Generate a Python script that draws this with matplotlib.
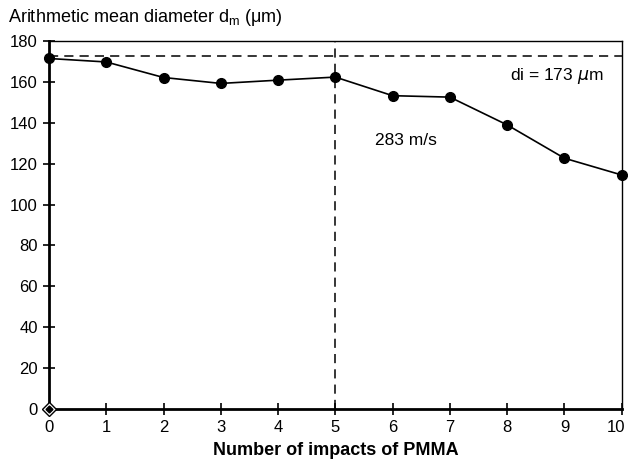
import numpy as np
import matplotlib
matplotlib.use("Agg")
from matplotlib import pyplot as plt
from matplotlib.transforms import ScaledTranslation

plt.rcParams['font.family'] = ['Liberation Sans', 'DejaVu Sans']

# Data
impacts = [0, 1, 2, 3, 4, 5, 6, 7, 8, 9, 10]
diameter = [171.5, 169.8, 162.2, 159.3, 160.9, 162.4, 153.3, 152.6, 139.0, 122.7, 114.5]
d_initial = 172.5
v_impact = 5

fig = plt.figure(figsize=(6.28, 4.61), dpi=100)
ax = fig.add_axes([0.078, 0.1128, 0.912, 0.798])

ax.plot(impacts, diameter, color="black", lw=1.2, marker="o", ms=7, clip_on=False, zorder=5)
ax.axhline(d_initial, color="black", lw=1.1, ls=(0, (6, 4)))
ax.axvline(v_impact, color="black", lw=1.1, ls=(0, (6, 4)))
ax.plot([0], [0], marker="D", ms=7, mfc="white", mec="black", mew=1, ls="", clip_on=False, zorder=6)
ax.plot([0], [0], marker="D", ms=3.5, mfc="black", mec="black", ls="", clip_on=False, zorder=7)

ax.set_xlim(0, 10)
ax.set_ylim(0, 180)
ax.set_xticks(range(0, 11))
ax.set_yticks(range(0, 181, 20))
ax.tick_params(direction="inout", length=8, width=1.2, labelsize=12, pad=4)

# pull the last x label in a little so it stays on the canvas
last = ax.get_xticklabels()[-1]
last.set_transform(last.get_transform() + ScaledTranslation(-4 / 72, 0, fig.dpi_scale_trans))

for s in ["left", "bottom"]:
    ax.spines[s].set_linewidth(2)
for s in ["top", "right"]:
    ax.spines[s].set_linewidth(1)

ax.set_xlabel("Number of impacts of PMMA", fontsize=13, fontweight="bold", labelpad=5)
fig.text(0.013, 0.962, r"Arithmetic mean diameter d$_{\mathregular{m}}$ (μm)", fontsize=13, va="center")

ax.text(8.05, 163, r"di = 173 $\mu$m", fontsize=12.5, va="center")
ax.text(5.7, 131.5, "283 m/s", fontsize=12.5, va="center")

fig.savefig("out.png", dpi=100)
